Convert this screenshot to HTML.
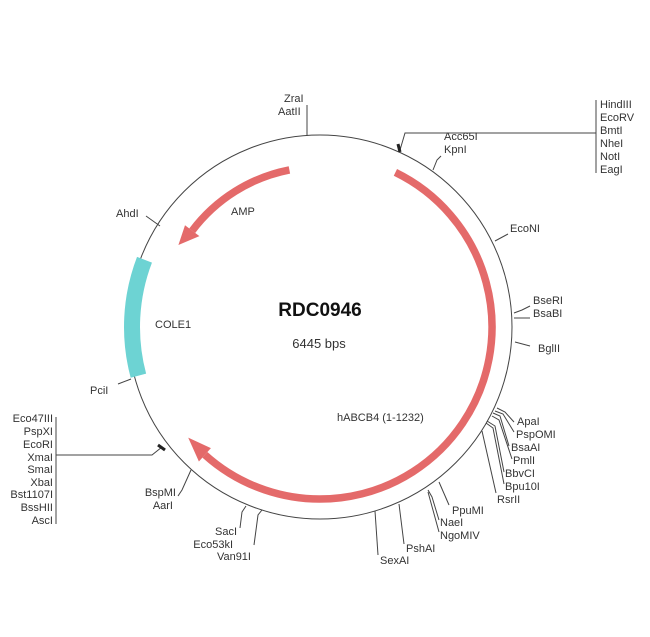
<!DOCTYPE html>
<html><head><meta charset="utf-8"><style>
html,body{margin:0;padding:0;background:#fff;}
svg{display:block;}
text{font-family:"Liberation Sans",Arial,sans-serif;font-size:11px;fill:#333;}
</style></head><body>
<svg width="650" height="637" viewBox="0 0 650 637" xmlns="http://www.w3.org/2000/svg">
<circle cx="320" cy="327" r="192" fill="none" stroke="#444" stroke-width="1"/>
<g transform="translate(2,2)">
<path d="M393.4 170.4 A172 172 0 1 1 202.9 452.8" fill="none" stroke="#e46a6a" stroke-width="7.5"/>
<polygon points="208.9,446.1 196.9,459.5 186.2,435.6" fill="#e46a6a"/>
<path d="M287.4 167.9 A160 160 0 0 0 190.2 228.7" fill="none" stroke="#e46a6a" stroke-width="7.5"/>
<polygon points="197.4,234.1 183.0,223.3 176.4,243" fill="#e46a6a"/>
<path d="M142.5 257.7 A188 188 0 0 0 136.4 373.7" fill="none" stroke="#6dd3d3" stroke-width="16"/>
</g>
<g stroke="#444" stroke-width="1" fill="none">
<line x1="307" y1="105" x2="307" y2="136"/>
<polyline points="400,150 405,133 596,133"/>
<line x1="596" y1="100" x2="596" y2="173"/>
<polyline points="433,170 437,160 441,156"/>
<line x1="495" y1="241" x2="508" y2="234"/>
<polyline points="514,313 522,310 530,306"/>
<line x1="514" y1="318" x2="530" y2="318"/>
<line x1="515" y1="342" x2="530" y2="346"/>
<polyline points="497,408 505,412 514,422"/>
<polyline points="495,411 503,414 514,432"/>
<polyline points="493,413 500,416 509,446"/>
<polyline points="492,416 499,420 512,459"/>
<polyline points="487,421 495,426 504,472"/>
<polyline points="486,423 493,428 504,484"/>
<line x1="482" y1="431" x2="496" y2="493"/>
<line x1="439" y1="482" x2="449" y2="505"/>
<polyline points="428,490 432,497 439,520"/>
<line x1="428" y1="492" x2="439" y2="532"/>
<line x1="399" y1="504" x2="404" y2="544"/>
<line x1="375" y1="511" x2="378" y2="555"/>
<polyline points="262,510 258,515 254,545"/>
<polyline points="246,506 242,512 240,528"/>
<polyline points="191,470 182,490 178,496"/>
<polyline points="162,447 152,455 56,455"/>
<line x1="56" y1="417" x2="56" y2="524"/>
<line x1="118" y1="384" x2="131" y2="379"/>
<line x1="146" y1="216" x2="160" y2="226"/>
</g>
<g stroke="#222" stroke-width="3">
<line x1="398" y1="144" x2="400" y2="152"/>
<line x1="158" y1="445" x2="165" y2="450"/>
</g>
<text x="284" y="102">ZraI</text>
<text x="278" y="115">AatII</text>
<text x="600" y="108">HindIII</text>
<text x="600" y="121">EcoRV</text>
<text x="600" y="134">BmtI</text>
<text x="600" y="147">NheI</text>
<text x="600" y="160">NotI</text>
<text x="600" y="173">EagI</text>
<text x="444" y="140">Acc65I</text>
<text x="444" y="153">KpnI</text>
<text x="510" y="232">EcoNI</text>
<text x="533" y="304">BseRI</text>
<text x="533" y="317">BsaBI</text>
<text x="538" y="352">BglII</text>
<text x="517" y="425">ApaI</text>
<text x="516" y="438">PspOMI</text>
<text x="511" y="451">BsaAI</text>
<text x="513" y="464">PmlI</text>
<text x="505" y="477">BbvCI</text>
<text x="505" y="490">Bpu10I</text>
<text x="497" y="503">RsrII</text>
<text x="452" y="514">PpuMI</text>
<text x="440" y="526">NaeI</text>
<text x="440" y="539">NgoMIV</text>
<text x="406" y="552">PshAI</text>
<text x="380" y="564">SexAI</text>
<text x="237" y="535" text-anchor="end">SacI</text>
<text x="233" y="548" text-anchor="end">Eco53kI</text>
<text x="251" y="560" text-anchor="end">Van91I</text>
<text x="176" y="496" text-anchor="end">BspMI</text>
<text x="173" y="509" text-anchor="end">AarI</text>
<g text-anchor="end">
<text x="53" y="422">Eco47III</text>
<text x="53" y="435">PspXI</text>
<text x="53" y="448">EcoRI</text>
<text x="53" y="461">XmaI</text>
<text x="53" y="473">SmaI</text>
<text x="53" y="486">XbaI</text>
<text x="53" y="498">Bst1107I</text>
<text x="53" y="511">BssHII</text>
<text x="53" y="524">AscI</text>
</g>
<text x="90" y="394">PciI</text>
<text x="116" y="217">AhdI</text>
<text x="231" y="215">AMP</text>
<text x="155" y="328">COLE1</text>
<text x="320" y="316" text-anchor="middle" style="font-size:19px;font-weight:bold;fill:#111">RDC0946</text>
<text x="319" y="348" text-anchor="middle" style="font-size:13px">6445 bps</text>
<text x="337" y="421">hABCB4 (1-1232)</text>
</svg>
</body></html>
